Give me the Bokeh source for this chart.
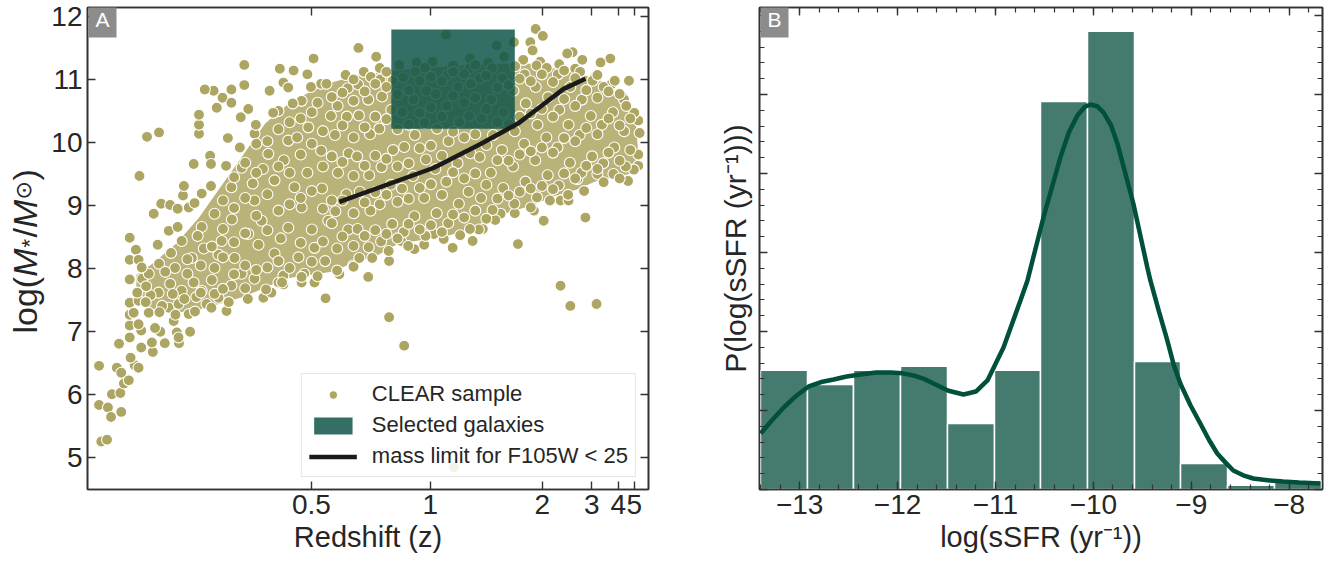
import math
import numpy as np
from bokeh.plotting import figure
from bokeh.layouts import row
from bokeh.models import (Range1d, FixedTicker, SingleIntervalTicker, LinearAxis,
                          Label, Legend, LegendItem)
from bokeh.embed import file_html
from bokeh.resources import INLINE

# ---------------- Panel A data (x = lookback time in Gyr, labelled by redshift) -------------
z_ticks = [0.5, 1, 2, 3, 4, 5]
z_tick_labels = ["0.5", "1", "2", "3", "4", "5"]
mass_ticks = [5, 6, 7, 8, 9, 10, 11, 12]

clear_lookback_gyr = [
    # sparse low-z tail
    0.26, 0.26, 0.46, 0.53, 0.31, 0.44, 0.55, 0.74, 0.76, 0.66, 0.76, 0.82, 0.93, 1.06, 1.15, 0.97,
    0.71, 0.95, 0.95, 0.95, 0.95, 0.95, 1.21, 1.21, 1.47, 1.45, 1.64, 1.74, 2.06, 2.31, 2.01,
    # upper-left sparse
    0.95, 1.09, 0.95, 1.15, 1.34, 1.61, 1.17, 2.39, 1.49, 1.66, 1.86, 2.03, 2.15, 2.17, 2.57, 2.76,
    2.78, 2.51, 2.51, 2.51, 2.84, 2.64, 2.91, 3.04, 3.24, 3.24, 3.53, 3.53, 3.16, 3.45, 3.62, 4.33,
    4.64, 5.08, 4.95, 4.10, 4.41,
    # outliers
    6.79, 7.13, 10.65, 10.87, 11.46, 8.25, 9.69, 11.21,
    # lower edge
    3.13, 2.68, 2.95, 3.96, 4.14, 4.41, 4.82, 5.11, 5.36, 5.67, 5.98, 6.32, 6.79, 7.06, 7.36,
    7.80, 8.22, 8.67, 8.90, 9.30, 10.05, 10.27, 10.65, 10.83, 11.03, 11.48, 11.84, 12.17, 12.40,
    # right / top edge
    12.40, 12.43, 12.40, 12.19, 12.07, 11.77, 11.55, 11.14, 10.92, 10.80, 10.09, 10.25, 9.97,
    10.02, 9.60, 8.07, 9.21, 6.10, 6.50, 5.09,
    # dense left part
    1.23, 1.60, 1.38, 1.83, 2.05, 2.12, 2.39, 2.57, 2.86, 3.24, 3.47, 3.76, 4.30, 4.41, 4.88,
    1.15, 1.15, 1.04, 1.52, 1.94, 2.28, 1.86, 2.05,
    1.83, 2.12, 2.35, 2.57, 2.86, 3.02, 3.31, 3.62, 3.92, 4.21, 4.52, 4.82, 5.11, 5.42, 1.61,
    1.38, 1.97, 2.86, 2.28, 3.24, 3.76, 4.21, 4.66, 3.47, 4.07, 4.52, 4.97, 5.26, 3.76, 4.30,
    4.82, 5.26, 4.52,
    1.42, 1.68, 1.92, 2.18, 2.45, 1.32, 2.25, 1.88, 2.48,
    # upper envelope
    1.22, 1.58, 2.03, 2.41, 2.78, 3.12, 3.43, 3.79, 4.18, 4.62, 5.03, 5.38, 5.81, 6.22, 6.58,
    7.02, 7.41, 7.77, 8.23, 8.61, 9.02, 9.38, 9.81, 10.19, 10.62, 10.98, 11.42, 11.79, 12.08, 12.31,
    # lower envelope
    12.30, 11.98, 11.62, 11.18, 10.82, 10.41, 9.98, 9.62, 9.18, 8.81, 8.39, 8.02, 7.58, 7.22, 6.78,
    6.41, 5.99, 5.62, 5.18, 4.82, 4.38, 4.02, 3.61, 3.18, 2.79, 2.42, 1.98, 1.62, 1.31, 1.12,
    # interior
    5.62, 5.58, 5.64, 5.57, 5.63,
    5.87, 5.83, 5.88, 5.84, 5.86,
    6.12, 6.08, 6.13, 6.07, 6.11, 6.09,
    6.33, 6.37, 6.34, 6.36, 6.32, 6.38,
    6.61, 6.58, 6.62, 6.57, 6.63, 6.59,
    6.86, 6.83, 6.88, 6.84, 6.87,
    7.12, 7.08, 7.13, 7.09, 7.11,
    7.36, 7.33, 7.37, 7.34, 7.38,
    7.61, 7.58, 7.62, 7.59, 7.63, 7.60,
    7.86, 7.83, 7.87, 7.84,
    8.12, 8.08, 8.13, 8.09, 8.11,
    8.36, 8.33, 8.37, 8.34,
    8.61, 8.58, 8.62, 8.59, 8.63, 8.60,
    8.86, 8.83, 8.87, 8.84,
    9.12, 9.08, 9.13, 9.09, 9.11,
    9.36, 9.33, 9.37, 9.34,
    9.61, 9.58, 9.62, 9.59, 9.63,
    9.86, 9.83, 9.87, 9.84,
    10.12, 10.08, 10.13, 10.09, 10.11,
    10.36, 10.33, 10.37, 10.34,
    10.61, 10.58, 10.62, 10.59,
    10.86, 10.83, 10.87,
    11.12, 11.08, 11.13, 11.09,
    11.36, 11.33, 11.37,
    11.61, 11.58, 11.62,
    11.86, 11.83, 11.87,
    12.12, 12.08, 12.13,
    3.55, 3.85, 4.05, 4.35, 4.75, 5.05, 5.35, 4.95, 5.28, 4.42, 3.95, 3.25, 3.72, 5.48, 5.18,
    4.72, 2.62, 2.25, 1.75, 2.95,
    # interior, second layer
    5.74, 5.74, 5.74, 5.74, 5.74,
    5.99, 5.99, 5.99, 5.99, 5.99, 5.99,
    6.24, 6.24, 6.24, 6.24, 6.24,
    6.48, 6.48, 6.48, 6.48, 6.48,
    6.73, 6.73, 6.73, 6.73, 6.73, 6.73,
    6.98, 6.98, 6.98, 6.98, 6.98,
    7.23, 7.23, 7.23, 7.23, 7.23,
    7.48, 7.48, 7.48, 7.48, 7.48,
    7.73, 7.73, 7.73, 7.73, 7.73,
    7.98, 7.98, 7.98, 7.98, 7.98,
    8.23, 8.23, 8.23, 8.23, 8.23,
    8.48, 8.48, 8.48, 8.48, 8.48,
    8.73, 8.73, 8.73, 8.73, 8.73,
    8.98, 8.98, 8.98, 8.98, 8.98,
    9.23, 9.23, 9.23, 9.23,
    9.48, 9.48, 9.48, 9.48,
    9.73, 9.73, 9.73, 9.73,
    9.98, 9.98, 9.98, 9.98,
    10.23, 10.23, 10.23, 10.23,
    10.48, 10.48, 10.48, 10.48,
    10.73, 10.73, 10.73, 10.73,
    10.98, 10.98, 10.98, 10.98,
    11.23, 11.23, 11.23,
    11.48, 11.48, 11.48, 11.48,
    11.73, 11.73, 11.73,
    11.98, 11.98, 11.98,
    12.22, 12.22,
    2.55, 2.55, 2.80, 2.80, 3.05, 3.05, 3.05, 3.05, 3.30, 3.30, 3.30, 3.30,
    3.55, 3.55, 3.55, 3.55, 3.80, 3.80, 3.80, 3.80, 4.05, 4.05, 4.05,
    4.30, 4.30, 4.30, 4.30, 4.55, 4.55, 4.55, 4.55, 4.80, 4.80, 4.80, 4.80,
    5.05, 5.05, 5.05, 5.05, 5.30, 5.30, 5.30, 5.30, 5.50, 5.50, 5.50, 5.50,
]
clear_logmass = [
    6.46, 5.84, 5.80, 5.65, 5.26, 5.29, 6.01, 6.03, 5.73, 6.43, 6.35, 6.18, 6.23, 6.47, 6.43, 6.59,
    6.81, 6.91, 7.10, 7.27, 7.46, 7.83, 6.75, 7.02, 6.68, 6.83, 7.00, 6.82, 6.82, 7.00, 6.99,
    8.49, 8.30, 8.14, 8.14, 10.09, 10.16, 9.47, 9.66, 8.87, 9.03, 9.01, 8.95, 9.16, 9.31, 9.19, 9.79,
    9.66, 10.14, 10.28, 10.44, 10.82, 10.84, 10.55, 10.71, 10.84, 10.63, 11.23, 10.91, 10.07, 10.40, 10.53, 11.17,
    11.14, 11.33, 11.08, 10.82, 10.95,
    7.23, 6.78, 7.73, 7.41, 7.44, 4.85, 8.39, 8.81,
    7.33, 7.44, 7.54, 7.54, 7.62, 7.75, 7.78, 7.78, 7.53, 7.91, 8.05, 7.87, 8.12, 8.44, 8.31,
    8.55, 8.33, 8.44, 8.63, 8.87, 8.92, 8.76, 9.08, 9.08, 9.42, 9.50, 9.50, 9.39, 9.63,
    9.81, 10.15, 10.35, 10.98, 10.71, 11.33, 11.27, 11.31, 11.43, 11.41, 11.80, 11.69, 11.59,
    11.46, 11.59, 11.71, 11.54, 11.50, 11.36, 11.33,
    7.84, 7.62, 7.30, 7.38, 7.44, 7.65, 7.78, 7.65, 7.60, 7.73, 7.92, 7.84, 7.78, 7.89, 7.92,
    7.49, 7.12, 7.30, 7.06, 7.17, 7.28, 7.76, 6.91,
    8.60, 8.44, 8.17, 8.66, 8.87, 8.44, 8.17, 8.55, 8.76, 8.24, 8.65, 8.97, 8.33, 8.76, 8.08,
    7.92, 8.01, 8.01, 8.97, 9.29, 9.08, 9.40, 9.29, 9.60, 9.82, 10.03, 10.24, 9.87, 10.14, 10.50,
    10.66, 10.93, 10.87,
    7.58, 7.41, 7.60, 7.52, 7.55, 7.72, 8.15, 8.25, 8.52,
    8.02, 8.38, 8.66, 9.04, 9.31, 9.63, 9.92, 10.28, 10.47, 10.62, 10.88, 10.93, 11.07, 11.12, 11.18,
    11.23, 11.27, 11.28, 11.22, 11.33, 11.27, 11.36, 11.31, 11.28, 11.24, 11.17, 11.03, 10.92, 10.68, 10.47,
    9.57, 9.43, 9.37, 9.23, 9.17, 9.08, 8.97, 8.88, 8.77, 8.62, 8.53, 8.47, 8.38, 8.36, 8.28,
    8.17, 8.03, 7.97, 7.88, 7.87, 7.78, 7.67, 7.52, 7.47, 7.38, 7.32, 7.27, 7.31, 7.47, 7.62,
    8.32, 8.91, 9.52, 10.12, 10.58,
    8.62, 9.18, 9.83, 10.41, 10.86,
    8.17, 8.63, 9.22, 9.78, 10.43, 10.92,
    8.34, 8.92, 9.48, 10.13, 10.68, 11.04,
    8.43, 9.02, 9.61, 10.22, 10.73, 11.00,
    8.71, 9.33, 9.88, 10.52, 10.98,
    8.58, 9.27, 9.93, 10.48, 11.03,
    8.83, 9.47, 10.12, 10.68, 11.12,
    8.52, 9.12, 9.73, 10.31, 10.82, 11.18,
    8.88, 9.58, 10.22, 10.77,
    8.72, 9.38, 10.02, 10.58, 11.07,
    9.03, 9.67, 10.32, 10.88,
    8.63, 9.22, 9.83, 10.42, 10.93, 11.17,
    9.12, 9.77, 10.38, 11.02,
    8.93, 9.52, 10.12, 10.68, 11.18,
    9.28, 9.88, 10.48, 11.02,
    9.03, 9.62, 10.18, 10.82, 11.21,
    9.38, 9.98, 10.62, 11.08,
    9.13, 9.72, 10.28, 10.88, 11.22,
    9.48, 10.08, 10.72, 11.18,
    9.32, 9.92, 10.52, 11.08,
    9.68, 10.28, 10.88,
    9.52, 10.12, 10.68, 11.12,
    9.78, 10.42, 10.98,
    9.67, 10.28, 10.88,
    9.92, 10.48, 10.98,
    9.62, 10.18, 10.58,
    8.05, 8.38, 8.02, 8.48, 8.18, 8.62, 8.12, 9.52, 9.27, 9.72, 9.58, 8.78, 9.35, 10.42, 10.63,
    10.08, 8.32, 7.92, 7.95, 8.22,
    8.51, 9.08, 9.69, 10.27, 10.79,
    8.36, 8.88, 9.47, 10.08, 10.66, 11.00,
    8.52, 9.05, 9.63, 10.24, 10.81,
    8.61, 9.21, 9.79, 10.41, 10.93,
    8.55, 9.17, 9.74, 10.37, 10.88, 11.12,
    8.48, 9.06, 9.62, 10.21, 10.76,
    8.71, 9.11, 9.67, 10.28, 10.83,
    8.62, 9.28, 9.91, 10.47, 10.98,
    8.69, 9.34, 9.95, 10.56, 11.04,
    8.58, 9.17, 9.79, 10.41, 10.97,
    8.86, 9.53, 10.17, 10.74, 11.12,
    8.81, 9.43, 10.08, 10.63, 11.09,
    8.92, 9.51, 10.13, 10.71, 11.23,
    8.79, 9.33, 9.96, 10.53, 11.06,
    9.11, 9.72, 10.32, 10.87,
    9.16, 9.71, 10.29, 10.91,
    9.22, 9.81, 10.41, 11.01,
    9.27, 9.86, 10.46, 10.97,
    9.31, 9.92, 10.53, 11.08,
    9.26, 9.84, 10.41, 10.96,
    9.51, 10.07, 10.69, 11.14,
    9.43, 10.02, 10.58, 11.02,
    9.63, 10.23, 10.83,
    9.58, 10.13, 10.71, 11.07,
    9.84, 10.38, 10.81,
    9.71, 10.27, 10.77,
    9.88, 10.38,
    7.62, 8.05, 7.82, 8.35, 7.68, 8.18, 8.63, 9.08, 7.91, 8.42, 8.96, 9.45,
    7.69, 8.56, 9.12, 9.68, 7.98, 8.84, 9.52, 9.98, 8.61, 9.18, 10.02,
    8.12, 8.92, 9.62, 10.21, 8.01, 9.02, 9.52, 10.32, 8.41, 9.12, 9.81, 10.38,
    8.11, 9.23, 9.98, 10.48, 8.43, 8.95, 9.62, 10.18, 8.72, 9.08, 9.78, 10.72,
]
assert len(clear_lookback_gyr) == len(clear_logmass)

# outline of the fully covered (dense) part of the CLEAR cloud
dense_outline_lookback_gyr = [1.1, 1.5, 2.0, 2.5, 3.0, 3.5, 4.0, 4.5, 5.0, 5.5, 6.0, 7.0, 8.0, 9.0, 10.0,
                              11.0, 11.5, 12.0, 12.35, 12.4, 12.2, 11.5, 11.0, 10.5, 10.0, 9.5, 9.0, 8.5,
                              8.0, 7.5, 7.0, 6.5, 6.0, 5.5, 5.0, 4.5, 4.0, 3.5, 3.0, 2.5, 2.0, 1.5, 1.1]
dense_outline_logmass = [7.9, 8.1, 8.4, 8.8, 9.3, 9.8, 10.3, 10.6, 10.8, 10.95, 11.05, 11.15, 11.2, 11.25,
                         11.25, 11.1, 11.0, 10.75, 10.3, 9.8, 9.5, 9.4, 9.25, 9.15, 9.0, 8.9, 8.75, 8.6,
                         8.5, 8.45, 8.4, 8.2, 8.1, 7.95, 7.9, 7.85, 7.7, 7.55, 7.45, 7.35, 7.3, 7.35, 7.5]

selected_lookback_gyr = [6.84, 9.62]
selected_logmass = [10.22, 11.79]

limit_lookback_gyr = [5.67, 7.80, 8.86, 9.69, 10.20, 10.72, 11.21]
limit_logmass = [9.06, 9.60, 9.98, 10.30, 10.57, 10.85, 11.01]

# ---------------- Panel B data ----------------
ssfr_bin_edges = [-13.40, -12.92, -12.45, -11.97, -11.49, -11.01, -10.54, -10.06, -9.58, -9.11,
                  -8.63, -8.15, -7.67]
ssfr_density = [0.151, 0.133, 0.151, 0.156, 0.0835, 0.151, 0.491, 0.580, 0.162, 0.033, 0.0055, 0.011]
kde_logssfr = [-13.398, -13.28, -13.163, -13.03, -12.908, -12.78, -12.653, -12.52, -12.378, -12.22,
               -12.071, -11.95, -11.837, -11.73, -11.633, -11.48, -11.327, -11.20, -11.082, -10.918,
               -10.745, -10.673, -10.510, -10.337, -10.25, -10.163, -10.09, -10.031, -9.96, -9.898,
               -9.82, -9.755, -9.592, -9.449, -9.418, -9.33, -9.245, -9.18, -9.112, -9.01, -8.908,
               -8.82, -8.735, -8.65, -8.571, -8.47, -8.367, -8.20, -8.061, -7.90, -7.684]
kde_density = [0.0709, 0.088, 0.1038, 0.119, 0.1304, 0.136, 0.1392, 0.143, 0.1456, 0.148,
               0.1481, 0.147, 0.1443, 0.140, 0.1342, 0.125, 0.1203, 0.124, 0.138, 0.1797,
               0.2392, 0.2646, 0.3443, 0.4203, 0.452, 0.4734, 0.484, 0.4873, 0.485, 0.4772,
               0.461, 0.438, 0.362, 0.281, 0.2646, 0.225, 0.1886, 0.158, 0.1342, 0.107, 0.0835,
               0.063, 0.0456, 0.034, 0.024, 0.018, 0.0139, 0.0115, 0.0101, 0.0088, 0.0076]
ssfr_ticks = [-13, -12, -11, -10, -9, -8]
ssfr_tick_labels = ["\u221213", "\u221212", "\u221211", "\u221210", "\u22129", "\u22128"]


def lookback_gyr(z):
    H0, Om = 70.0, 0.3
    OL = 1.0 - Om
    tH = 977.8 / H0

    def age(zz):
        return 2.0 / (3.0 * math.sqrt(OL)) * tH * np.arcsinh(math.sqrt(OL / Om) * (1.0 + zz) ** -1.5)

    return age(0.0) - age(np.asarray(z, dtype=float))


FONT = "Liberation Sans"
TEXT = "#262626"
AXC = "#333333"
OLIVE = "#ada562"


def style_axis(ax, show_labels, minor):
    ax.axis_line_color = AXC
    ax.axis_line_width = 1.6
    ax.major_tick_in = 8
    ax.major_tick_out = 0
    ax.major_tick_line_color = AXC
    ax.major_tick_line_width = 1.4
    if minor:
        ax.minor_tick_in = 5
        ax.minor_tick_out = 0
        ax.minor_tick_line_color = AXC
        ax.minor_tick_line_width = 1.2
    else:
        ax.minor_tick_line_color = None
    ax.major_label_text_font = FONT
    ax.axis_label_text_font = FONT
    ax.axis_label_text_color = TEXT
    ax.axis_label_text_font_style = "normal"
    if show_labels:
        ax.major_label_text_color = TEXT
        ax.major_label_text_font_size = "28px"
        ax.major_label_standoff = 5
    else:
        ax.major_label_text_color = None
        ax.major_label_text_font_size = "1px"
        ax.major_label_standoff = 0


# ---------------- y-label strip for panel A ----------------
lab = figure(width=48, height=561, x_axis_type=None, y_axis_type=None, output_backend="svg",
             toolbar_location=None, min_border=0, x_range=Range1d(0, 1), y_range=Range1d(0, 1))
lab.outline_line_color = None
lab.grid.visible = False
ylab = [("log(", "normal", "34px", FONT, 24, 156),
        ("M", "italic", "34px", FONT, 24, 212.7),
        ("*", "normal", "22px", FONT, 29, 242),
        ("/", "normal", "34px", FONT, 24, 252),
        ("M", "italic", "34px", FONT, 24, 261.5),
        ("\u2299", "normal", "22px", "DejaVu Sans", 23, 290),
        (")", "normal", "34px", FONT, 24, 309)]
for txt, style, size, fnt, xx, yy in ylab:
    lab.add_layout(Label(x=xx, y=yy, x_units="screen", y_units="screen", text=txt, angle=math.pi / 2,
                         text_font=fnt, text_font_style=style, text_font_size=size,
                         text_color=TEXT, text_align="left", text_baseline="alphabetic"))

# ---------------- Panel A ----------------
tick_t = [round(float(v), 4) for v in lookback_gyr(z_ticks)]

p1 = figure(width=616, height=561, x_range=Range1d(0, 12.63), y_range=Range1d(4.5, 12.14),
            output_backend="svg", toolbar_location=None,
            min_border_left=37, min_border_right=16, min_border_top=7, min_border_bottom=72)
p1.grid.visible = False
p1.outline_line_color = AXC
p1.outline_line_width = 1.6
p1.border_fill_color = "white"

p1.add_layout(LinearAxis(ticker=FixedTicker(ticks=tick_t)), "above")
p1.add_layout(LinearAxis(ticker=FixedTicker(ticks=mass_ticks)), "right")
bx = p1.below[0]
bx.ticker = FixedTicker(ticks=tick_t)
bx.major_label_overrides = dict(zip(tick_t, z_tick_labels))
bx.axis_label = "Redshift (z)"
ly = p1.left[0]
ly.ticker = FixedTicker(ticks=mass_ticks)
style_axis(bx, True, False)
style_axis(ly, True, False)
style_axis(p1.above[0], False, False)
style_axis(p1.right[0], False, False)
bx.axis_label_text_font_size = "29px"
bx.axis_label_standoff = 4

p1.patch(dense_outline_lookback_gyr, dense_outline_logmass, fill_color=OLIVE, fill_alpha=0.85,
         line_color=None)
r_sc = p1.scatter(clear_lookback_gyr, clear_logmass, size=11, fill_color=OLIVE,
                  line_color="white", line_width=1.1)
r_box = p1.quad(left=[selected_lookback_gyr[0]], right=[selected_lookback_gyr[1]],
                bottom=[selected_logmass[0]], top=[selected_logmass[1]],
                fill_color="#11564a", fill_alpha=0.85, line_color=None)
r_line = p1.line(limit_lookback_gyr, limit_logmass, line_color="#1a1a1a", line_width=4.5)

legend = Legend(items=[LegendItem(label="CLEAR sample", renderers=[r_sc]),
                       LegendItem(label="Selected galaxies", renderers=[r_box]),
                       LegendItem(label="mass limit for F105W < 25", renderers=[r_line])],
                location="bottom_right")
legend.label_text_font = FONT
legend.label_text_font_size = "22px"
legend.label_text_color = TEXT
legend.glyph_width = 48
legend.glyph_height = 21
legend.label_height = 21
legend.label_standoff = 15
legend.spacing = 5
legend.padding = 7
legend.margin = 12
legend.border_line_color = "#cccccc"
legend.border_line_width = 1
legend.background_fill_alpha = 0.85
p1.add_layout(legend)

# ---------------- Panel B ----------------
p2 = figure(width=664, height=561, x_range=Range1d(-13.41, -7.66), y_range=Range1d(0, 0.61),
            output_backend="svg", toolbar_location=None,
            min_border_left=95, min_border_right=6, min_border_top=7, min_border_bottom=72)
p2.grid.visible = False
p2.outline_line_color = AXC
p2.outline_line_width = 1.6
p2.border_fill_color = "white"
p2.add_layout(LinearAxis(ticker=SingleIntervalTicker(interval=1, num_minor_ticks=5)), "above")
p2.add_layout(LinearAxis(ticker=SingleIntervalTicker(interval=0.1, num_minor_ticks=5)), "right")
bx2 = p2.below[0]
bx2.ticker = SingleIntervalTicker(interval=1, num_minor_ticks=5)
bx2.major_label_overrides = dict(zip(ssfr_ticks, ssfr_tick_labels))
bx2.axis_label = "log(sSFR (yr\u207b\u00b9))"
ly2 = p2.left[0]
ly2.ticker = SingleIntervalTicker(interval=0.1, num_minor_ticks=5)
ly2.axis_label = "P(log(sSFR (yr\u207b\u00b9)))"
style_axis(bx2, True, True)
style_axis(ly2, False, True)
style_axis(p2.above[0], False, True)
style_axis(p2.right[0], False, True)
bx2.axis_label_text_font_size = "29px"
bx2.axis_label_standoff = 4
ly2.axis_label_text_font_size = "30px"
ly2.axis_label_standoff = 8

p2.quad(left=ssfr_bin_edges[:-1], right=ssfr_bin_edges[1:], bottom=0, top=ssfr_density,
        fill_color="#457b6e", line_color="white", line_width=1.5)
p2.line(kde_logssfr, kde_density, line_color="#00503c", line_width=4.5)

for p, t in ((p1, "A"), (p2, "B")):
    p.add_layout(Label(x=1, y=489, x_units="screen", y_units="screen", text=t, text_font=FONT,
                       text_font_size="21px", text_color="white", text_align="left",
                       text_baseline="top", background_fill_color="#8c8c8c", padding=7))

layout = row(lab, p1, p2)
open("out.html", "w").write(file_html(layout, INLINE))
